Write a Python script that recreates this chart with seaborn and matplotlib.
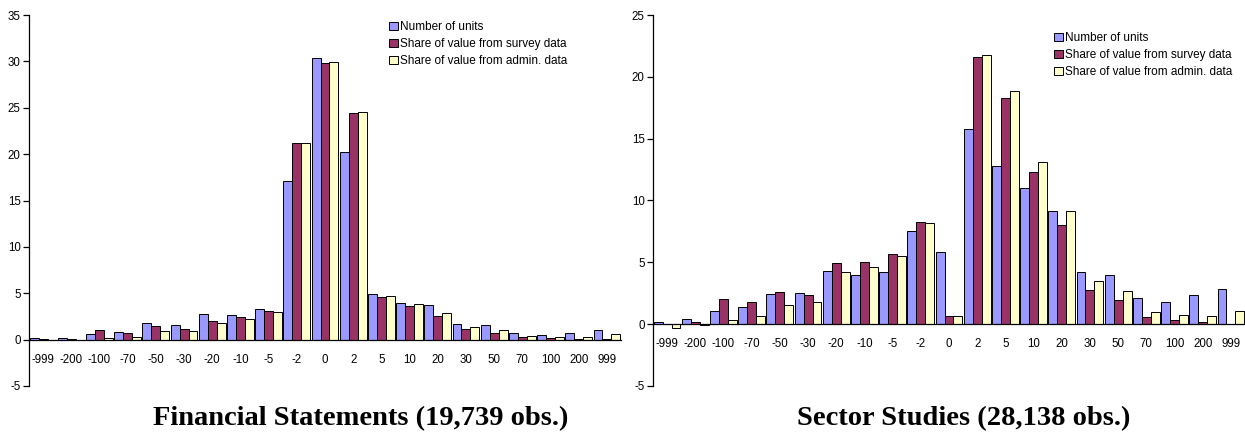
import numpy as np
import pandas as pd
import matplotlib
matplotlib.use("Agg")
import matplotlib.pyplot as plt
import seaborn as sns

categories = ["-999", "-200", "-100", "-70", "-50", "-30", "-20", "-10", "-5", "-2",
              "0", "2", "5", "10", "20", "30", "50", "70", "100", "200", "999"]
series_names = ["Number of units", "Share of value from survey data",
                "Share of value from admin. data"]

fs_units = [0.2, 0.2, 0.65, 0.85, 1.83, 1.58, 2.73, 2.66, 3.35, 17.15,
            30.4, 20.2, 4.93, 4.0, 3.78, 1.73, 1.58, 0.75, 0.54, 0.75, 1.0]
fs_survey = [0.1, 0.05, 1.08, 0.7, 1.44, 1.19, 2.05, 2.4, 3.13, 21.15,
             29.8, 24.4, 4.57, 3.6, 2.55, 1.1, 0.75, 0.3, 0.18, 0.1, 0.04]
fs_admin = [-0.05, 0.0, 0.2, 0.3, 0.9, 0.9, 1.83, 2.23, 3.0, 21.2,
            29.9, 24.55, 4.75, 3.85, 2.9, 1.4, 1.08, 0.43, 0.25, 0.3, 0.65]

ss_units = [0.16, 0.4, 1.08, 1.38, 2.43, 2.49, 4.32, 3.97, 4.24, 7.54,
            5.81, 15.78, 12.76, 11.0, 9.19, 4.19, 4.0, 2.1, 1.76, 2.32, 2.84]
ss_survey = [0.02, 0.2, 2.03, 1.78, 2.57, 2.38, 4.97, 5.03, 5.7, 8.3,
             0.65, 21.6, 18.3, 12.27, 8.03, 2.78, 1.95, 0.6, 0.3, 0.16, 0.05]
ss_admin = [-0.3, -0.05, 0.32, 0.7, 1.57, 1.78, 4.24, 4.65, 5.51, 8.19,
            0.65, 21.8, 18.86, 13.1, 9.14, 3.49, 2.7, 0.97, 0.76, 0.7, 1.03]

fs_ticks = [-5, 0, 5, 10, 15, 20, 25, 30, 35]
ss_ticks = [-5, 0, 5, 10, 15, 20, 25]

title_fs = "Financial Statements (19,739 obs.)"
title_ss = "Sector Studies (28,138 obs.)"

palette = ["#9999FF", "#993366", "#FFFFCC"]


def long_df(a, b, c):
    rows = []
    for name, vals in zip(series_names, [a, b, c]):
        for cat, v in zip(categories, vals):
            rows.append({"cat": cat, "series": name, "value": v})
    return pd.DataFrame(rows)


sns.set_style("white")
plt.rcParams["font.family"] = ["Liberation Sans", "DejaVu Sans"]
plt.rcParams["text.color"] = "black"
plt.rcParams["xtick.color"] = "black"
plt.rcParams["ytick.color"] = "black"
plt.rcParams["axes.labelcolor"] = "black"

fig = plt.figure(figsize=(12.45, 4.32), dpi=100)
ax1 = fig.add_axes([29 / 1245, 1 - 386 / 432, 592 / 1245, 371 / 432])
ax2 = fig.add_axes([653 / 1245, 1 - 386 / 432, 592 / 1245, 371 / 432])


def draw(ax, df, yticks, leg_xy):
    sns.barplot(data=df, x="cat", y="value", hue="series", order=categories,
                hue_order=series_names, palette=palette, saturation=1,
                width=0.95, edgecolor="black", linewidth=0.7, errorbar=None,
                ax=ax)
    ax.set_xlim(-0.5, len(categories) - 0.5)
    ax.set_ylim(yticks[0], yticks[-1])
    ax.set_yticks(yticks)
    ax.set_yticklabels([str(t) for t in yticks], fontsize=8.3)
    ax.set_xlabel("")
    ax.set_ylabel("")
    for s in ["top", "right"]:
        ax.spines[s].set_visible(False)
    ax.spines["bottom"].set_position(("data", 0))
    ax.spines["bottom"].set_color("black")
    ax.spines["bottom"].set_linewidth(0.9)
    ax.spines["left"].set_color("black")
    ax.spines["left"].set_linewidth(0.9)
    ax.set_xticks(np.arange(len(categories)))
    ax.set_xticklabels(categories, fontsize=8.3)
    ax.set_xticks(np.arange(len(categories) + 1) - 0.5, minor=True)
    ax.tick_params(axis="x", which="major", length=0, pad=10)
    ax.tick_params(axis="x", which="minor", length=4, width=0.9,
                   direction="out", color="black")
    ax.tick_params(axis="y", length=4, width=0.9, direction="out",
                   color="black", left=True, pad=2)
    h, l = ax.get_legend_handles_labels()
    leg = ax.legend(h, l, loc="upper left",
                    bbox_to_anchor=(leg_xy[0] / 1245, 1 - leg_xy[1] / 432),
                    bbox_transform=fig.transFigure, frameon=False,
                    fontsize=8.5, handlelength=0.72, handleheight=0.72,
                    handletextpad=0.2, labelspacing=0.42, borderpad=0,
                    borderaxespad=0)
    for p in leg.get_patches():
        p.set_edgecolor("black")
        p.set_linewidth(0.7)


draw(ax1, long_df(fs_units, fs_survey, fs_admin), fs_ticks, (389, 21))
draw(ax2, long_df(ss_units, ss_survey, ss_admin), ss_ticks, (1054, 32))

fig.text(361 / 1245, 1 - 419 / 432, title_fs, ha="center", va="center",
         fontsize=20.5, fontweight="bold", family=["Liberation Serif"])
fig.text(964 / 1245, 1 - 419 / 432, title_ss, ha="center", va="center",
         fontsize=20.5, fontweight="bold", family=["Liberation Serif"])

fig.savefig("out.png", dpi=100)
